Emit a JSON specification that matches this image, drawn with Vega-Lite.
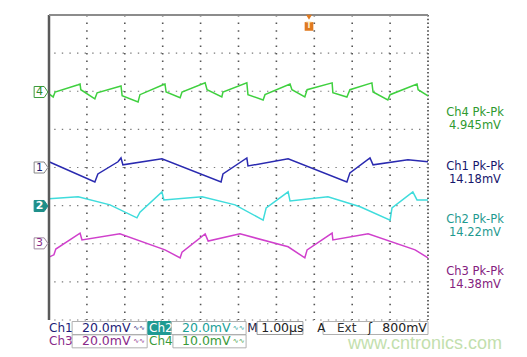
{
  "$schema": "https://vega.github.io/schema/vega-lite/v6.json",
  "width": 379,
  "height": 305,
  "autosize": {"type": "none"},
  "padding": {"left": 49, "top": 15, "right": 99, "bottom": 37},
  "background": "white",
  "config": {
    "view": {"stroke": null},
    "font": "DejaVu Sans",
    "axis": {"grid": false, "labels": false, "ticks": false, "domain": false, "titleOpacity": 0, "titleFontSize": 1}
  },
  "layer": [
    {
      "data": {"values": [{}]},
      "layer": [
        {"mark": {"type": "rule", "color": "#7a7a7a", "strokeWidth": 1.1, "strokeDash": [1.4, 6.2]}, "encoding": {"y": {"datum": 0}}},
        {"mark": {"type": "rule", "color": "#7a7a7a", "strokeWidth": 1.1, "strokeDash": [1.4, 6.2]}, "encoding": {"y": {"datum": 1}}},
        {"mark": {"type": "rule", "color": "#7a7a7a", "strokeWidth": 1.1, "strokeDash": [1.4, 6.2]}, "encoding": {"y": {"datum": 2}}},
        {"mark": {"type": "rule", "color": "#7a7a7a", "strokeWidth": 1.1, "strokeDash": [1.4, 6.2]}, "encoding": {"y": {"datum": 3}}},
        {"mark": {"type": "rule", "color": "#7a7a7a", "strokeWidth": 1.1, "strokeDash": [1.4, 6.2]}, "encoding": {"y": {"datum": 4}}},
        {"mark": {"type": "rule", "color": "#7a7a7a", "strokeWidth": 1.1, "strokeDash": [1.4, 6.2]}, "encoding": {"y": {"datum": 5}}},
        {"mark": {"type": "rule", "color": "#7a7a7a", "strokeWidth": 1.1, "strokeDash": [1.4, 6.2]}, "encoding": {"y": {"datum": 6}}},
        {"mark": {"type": "rule", "color": "#7a7a7a", "strokeWidth": 1.1, "strokeDash": [1.4, 6.2]}, "encoding": {"y": {"datum": 7}}},
        {"mark": {"type": "rule", "color": "#555555", "strokeWidth": 1.6, "strokeDash": [1.5, 6.1]}, "encoding": {"x": {"datum": 1}}},
        {"mark": {"type": "rule", "color": "#555555", "strokeWidth": 1.6, "strokeDash": [1.5, 6.1]}, "encoding": {"x": {"datum": 2}}},
        {"mark": {"type": "rule", "color": "#555555", "strokeWidth": 1.6, "strokeDash": [1.5, 6.1]}, "encoding": {"x": {"datum": 3}}},
        {"mark": {"type": "rule", "color": "#555555", "strokeWidth": 1.6, "strokeDash": [1.5, 6.1]}, "encoding": {"x": {"datum": 4}}},
        {"mark": {"type": "rule", "color": "#555555", "strokeWidth": 1.6, "strokeDash": [1.5, 6.1]}, "encoding": {"x": {"datum": 5}}},
        {"mark": {"type": "rule", "color": "#555555", "strokeWidth": 1.6, "strokeDash": [1.5, 6.1]}, "encoding": {"x": {"datum": 6}}},
        {"mark": {"type": "rule", "color": "#555555", "strokeWidth": 1.6, "strokeDash": [1.5, 6.1]}, "encoding": {"x": {"datum": 7}}},
        {"mark": {"type": "rule", "color": "#555555", "strokeWidth": 1.6, "strokeDash": [1.5, 6.1]}, "encoding": {"x": {"datum": 8}}},
        {"mark": {"type": "rule", "color": "#555555", "strokeWidth": 1.6, "strokeDash": [1.5, 6.1]}, "encoding": {"x": {"datum": 9}}},
        {"mark": {"type": "rule", "color": "#666666", "strokeWidth": 2, "strokeDash": [1.5, 2.3]}, "encoding": {"x": {"datum": 10}}}
      ]
    },
    {
      "data": {"values": [
        {"ch":"Ch4","t":0,"v":5.93},{"ch":"Ch4","t":0.11,"v":5.85},{"ch":"Ch4","t":0.16,"v":5.98},{"ch":"Ch4","t":0.77,"v":6.17},{"ch":"Ch4","t":0.82,"v":6.19},{"ch":"Ch4","t":0.84,"v":6.04},{"ch":"Ch4","t":1.21,"v":5.8},{"ch":"Ch4","t":1.27,"v":5.96},{"ch":"Ch4","t":1.9,"v":6.14},{"ch":"Ch4","t":1.93,"v":5.88},{"ch":"Ch4","t":2.35,"v":5.72},{"ch":"Ch4","t":2.4,"v":5.91},{"ch":"Ch4","t":3.01,"v":6.17},{"ch":"Ch4","t":3.06,"v":6.19},{"ch":"Ch4","t":3.09,"v":5.98},{"ch":"Ch4","t":3.46,"v":5.83},{"ch":"Ch4","t":3.51,"v":5.98},{"ch":"Ch4","t":4.12,"v":6.22},{"ch":"Ch4","t":4.17,"v":6.04},{"ch":"Ch4","t":4.56,"v":5.85},{"ch":"Ch4","t":4.59,"v":5.98},{"ch":"Ch4","t":5.22,"v":6.22},{"ch":"Ch4","t":5.25,"v":5.91},{"ch":"Ch4","t":5.65,"v":5.77},{"ch":"Ch4","t":5.7,"v":5.91},{"ch":"Ch4","t":6.36,"v":6.19},{"ch":"Ch4","t":6.41,"v":6.04},{"ch":"Ch4","t":6.75,"v":5.85},{"ch":"Ch4","t":6.81,"v":6.04},{"ch":"Ch4","t":7.47,"v":6.22},{"ch":"Ch4","t":7.49,"v":5.96},{"ch":"Ch4","t":7.86,"v":5.85},{"ch":"Ch4","t":7.94,"v":6.04},{"ch":"Ch4","t":8.52,"v":6.22},{"ch":"Ch4","t":8.55,"v":5.98},{"ch":"Ch4","t":8.94,"v":5.77},{"ch":"Ch4","t":9.0,"v":5.91},{"ch":"Ch4","t":9.71,"v":6.19},{"ch":"Ch4","t":9.74,"v":6.04},{"ch":"Ch4","t":10.0,"v":5.88},
        {"ch":"Ch1","t":0,"v":4.15},{"ch":"Ch1","t":1.21,"v":3.62},{"ch":"Ch1","t":1.29,"v":3.83},{"ch":"Ch1","t":1.82,"v":4.15},{"ch":"Ch1","t":1.9,"v":4.25},{"ch":"Ch1","t":1.95,"v":4.07},{"ch":"Ch1","t":2.98,"v":4.23},{"ch":"Ch1","t":4.54,"v":3.62},{"ch":"Ch1","t":4.59,"v":3.83},{"ch":"Ch1","t":5.22,"v":4.25},{"ch":"Ch1","t":5.25,"v":4.04},{"ch":"Ch1","t":6.31,"v":4.23},{"ch":"Ch1","t":7.86,"v":3.62},{"ch":"Ch1","t":7.94,"v":3.86},{"ch":"Ch1","t":8.47,"v":4.25},{"ch":"Ch1","t":8.55,"v":4.07},{"ch":"Ch1","t":9.47,"v":4.2},{"ch":"Ch1","t":10.0,"v":4.15},
        {"ch":"Ch2","t":0,"v":3.18},{"ch":"Ch2","t":0.77,"v":3.23},{"ch":"Ch2","t":1.61,"v":3.02},{"ch":"Ch2","t":2.32,"v":2.68},{"ch":"Ch2","t":2.4,"v":2.83},{"ch":"Ch2","t":2.98,"v":3.36},{"ch":"Ch2","t":3.03,"v":3.15},{"ch":"Ch2","t":4.04,"v":3.23},{"ch":"Ch2","t":4.91,"v":3.02},{"ch":"Ch2","t":5.65,"v":2.62},{"ch":"Ch2","t":5.73,"v":2.94},{"ch":"Ch2","t":6.31,"v":3.36},{"ch":"Ch2","t":6.36,"v":3.12},{"ch":"Ch2","t":7.36,"v":3.23},{"ch":"Ch2","t":8.21,"v":2.97},{"ch":"Ch2","t":9.0,"v":2.62},{"ch":"Ch2","t":9.05,"v":2.94},{"ch":"Ch2","t":9.6,"v":3.36},{"ch":"Ch2","t":9.71,"v":3.15},{"ch":"Ch2","t":10.0,"v":3.15},
        {"ch":"Ch3","t":0,"v":1.65},{"ch":"Ch3","t":0.13,"v":1.71},{"ch":"Ch3","t":0.18,"v":1.86},{"ch":"Ch3","t":0.82,"v":2.28},{"ch":"Ch3","t":0.87,"v":2.1},{"ch":"Ch3","t":1.87,"v":2.26},{"ch":"Ch3","t":3.06,"v":1.84},{"ch":"Ch3","t":3.46,"v":1.63},{"ch":"Ch3","t":3.51,"v":1.78},{"ch":"Ch3","t":4.12,"v":2.26},{"ch":"Ch3","t":4.2,"v":2.07},{"ch":"Ch3","t":5.04,"v":2.26},{"ch":"Ch3","t":6.31,"v":1.92},{"ch":"Ch3","t":6.75,"v":1.63},{"ch":"Ch3","t":6.81,"v":1.84},{"ch":"Ch3","t":7.47,"v":2.28},{"ch":"Ch3","t":7.49,"v":2.1},{"ch":"Ch3","t":8.42,"v":2.26},{"ch":"Ch3","t":9.66,"v":1.84},{"ch":"Ch3","t":10.0,"v":1.63}
      ]},
      "mark": {"type": "line", "strokeWidth": 1.5},
      "encoding": {
        "x": {"field": "t", "type": "quantitative", "title": null, "scale": {"domain": [0, 10], "nice": false, "zero": false},
              "axis": {"title": null, "grid": false, "values": [0,1,2,3,4,5,6,7,8,9,10]}},
        "y": {"field": "v", "type": "quantitative", "title": null, "scale": {"domain": [0, 8], "nice": false, "zero": false},
              "axis": {"title": null, "grid": false, "values": [0,1,2,3,4,5,6,7,8]}},
        "color": {"field": "ch", "type": "nominal", "scale": {"domain": ["Ch1","Ch2","Ch3","Ch4"], "range": ["#2a2ab0","#3fdcdc","#d040cc","#3fd03f"]}, "legend": null}
      }
    },
    {
      "data": {"values": [{}]},
      "layer": [
        {"mark": {"type": "rule", "color": "#5a5a5a", "strokeWidth": 2.5}, "encoding": {"x": {"datum": 0}}},
        {"mark": {"type": "rule", "color": "#8c8c8c", "strokeWidth": 2}, "encoding": {"y": {"datum": 8}}},

        {"mark": {"type": "point", "shape": "M-1,-0.8L0.45,-0.8L1,0L0.45,0.8L-1,0.8Z", "size": 190, "filled": true, "fill": "white", "stroke": "#3a9a3a", "strokeWidth": 1, "opacity": 1}, "encoding": {"x": {"datum": -0.21}, "y": {"datum": 5.98}}},
        {"mark": {"type": "text", "text": "4", "color": "#2e8a2e", "fontSize": 11, "align": "center", "baseline": "middle"}, "encoding": {"x": {"datum": -0.25}, "y": {"datum": 5.98}}},
        {"mark": {"type": "point", "shape": "M-1,-0.8L0.45,-0.8L1,0L0.45,0.8L-1,0.8Z", "size": 190, "filled": true, "fill": "white", "stroke": "#888888", "strokeWidth": 1, "opacity": 1}, "encoding": {"x": {"datum": -0.21}, "y": {"datum": 4.0}}},
        {"mark": {"type": "text", "text": "1", "color": "#1c1c78", "fontSize": 11, "align": "center", "baseline": "middle"}, "encoding": {"x": {"datum": -0.25}, "y": {"datum": 4.0}}},
        {"mark": {"type": "point", "shape": "M-1,-0.8L0.45,-0.8L1,0L0.45,0.8L-1,0.8Z", "size": 190, "filled": true, "fill": "#1e8f8a", "stroke": "#1e8f8a", "strokeWidth": 1, "opacity": 1}, "encoding": {"x": {"datum": -0.21}, "y": {"datum": 2.99}}},
        {"mark": {"type": "text", "text": "2", "color": "white", "fontSize": 11, "fontWeight": "bold", "align": "center", "baseline": "middle"}, "encoding": {"x": {"datum": -0.25}, "y": {"datum": 2.99}}},
        {"mark": {"type": "point", "shape": "M-1,-0.8L0.45,-0.8L1,0L0.45,0.8L-1,0.8Z", "size": 190, "filled": true, "fill": "white", "stroke": "#a08aa0", "strokeWidth": 1, "opacity": 1}, "encoding": {"x": {"datum": -0.21}, "y": {"datum": 2.01}}},
        {"mark": {"type": "text", "text": "3", "color": "#8a2a8a", "fontSize": 11, "align": "center", "baseline": "middle"}, "encoding": {"x": {"datum": -0.25}, "y": {"datum": 2.01}}},

        {"mark": {"type": "point", "shape": "triangle-down", "size": 35, "filled": true, "color": "#e07a20", "opacity": 1}, "encoding": {"x": {"datum": 6.86}, "y": {"datum": 7.94}}},
        {"mark": {"type": "point", "shape": "square", "size": 75, "filled": true, "color": "#e07a20", "opacity": 1}, "encoding": {"x": {"datum": 6.86}, "y": {"datum": 7.7}}},
        {"mark": {"type": "text", "text": "T", "color": "#fff2d0", "fontSize": 8, "fontWeight": "bold", "align": "center", "baseline": "middle"}, "encoding": {"x": {"datum": 6.86}, "y": {"datum": 7.7}}},

        {"mark": {"type": "text", "text": "Ch4 Pk-Pk", "color": "#2f9a2f", "fontSize": 11.5, "align": "center", "baseline": "middle"}, "encoding": {"x": {"datum": 11.24}, "y": {"datum": 5.42}}},
        {"mark": {"type": "text", "text": "4.945mV", "color": "#2f9a2f", "fontSize": 11.5, "align": "center", "baseline": "middle"}, "encoding": {"x": {"datum": 11.24}, "y": {"datum": 5.08}}},
        {"mark": {"type": "text", "text": "Ch1 Pk-Pk", "color": "#16166c", "fontSize": 11.5, "align": "center", "baseline": "middle"}, "encoding": {"x": {"datum": 11.24}, "y": {"datum": 4.02}}},
        {"mark": {"type": "text", "text": "14.18mV", "color": "#16166c", "fontSize": 11.5, "align": "center", "baseline": "middle"}, "encoding": {"x": {"datum": 11.24}, "y": {"datum": 3.68}}},
        {"mark": {"type": "text", "text": "Ch2 Pk-Pk", "color": "#1f9a90", "fontSize": 11.5, "align": "center", "baseline": "middle"}, "encoding": {"x": {"datum": 11.24}, "y": {"datum": 2.63}}},
        {"mark": {"type": "text", "text": "14.22mV", "color": "#1f9a90", "fontSize": 11.5, "align": "center", "baseline": "middle"}, "encoding": {"x": {"datum": 11.24}, "y": {"datum": 2.29}}},
        {"mark": {"type": "text", "text": "Ch3 Pk-Pk", "color": "#84207e", "fontSize": 11.5, "align": "center", "baseline": "middle"}, "encoding": {"x": {"datum": 11.24}, "y": {"datum": 1.26}}},
        {"mark": {"type": "text", "text": "14.38mV", "color": "#84207e", "fontSize": 11.5, "align": "center", "baseline": "middle"}, "encoding": {"x": {"datum": 11.24}, "y": {"datum": 0.92}}},

        {"mark": {"type": "rect", "fill": null, "stroke": "#b0b0b0", "strokeWidth": 1}, "encoding": {"x": {"datum": 0.61}, "x2": {"datum": 2.59}, "y": {"datum": -0.04}, "y2": {"datum": -0.38}}},
        {"mark": {"type": "rect", "fill": "#1e9a92", "stroke": "#1e9a92", "strokeWidth": 1}, "encoding": {"x": {"datum": 2.61}, "x2": {"datum": 3.22}, "y": {"datum": -0.04}, "y2": {"datum": -0.38}}},
        {"mark": {"type": "rect", "fill": null, "stroke": "#b0b0b0", "strokeWidth": 1}, "encoding": {"x": {"datum": 3.22}, "x2": {"datum": 5.2}, "y": {"datum": -0.04}, "y2": {"datum": -0.38}}},
        {"mark": {"type": "rect", "fill": null, "stroke": "#9a9a9a", "strokeWidth": 1}, "encoding": {"x": {"datum": 5.49}, "x2": {"datum": 6.7}, "y": {"datum": -0.04}, "y2": {"datum": -0.38}}},
        {"mark": {"type": "rect", "fill": null, "stroke": "#b0b0b0", "strokeWidth": 1}, "encoding": {"x": {"datum": 7.23}, "x2": {"datum": 10.0}, "y": {"datum": -0.04}, "y2": {"datum": -0.38}}},
        {"mark": {"type": "rect", "fill": null, "stroke": "#b0b0b0", "strokeWidth": 1}, "encoding": {"x": {"datum": 0.61}, "x2": {"datum": 2.59}, "y": {"datum": -0.39}, "y2": {"datum": -0.73}}},
        {"mark": {"type": "rect", "fill": null, "stroke": "#b0b0b0", "strokeWidth": 1}, "encoding": {"x": {"datum": 3.27}, "x2": {"datum": 5.2}, "y": {"datum": -0.39}, "y2": {"datum": -0.73}}},

        {"mark": {"type": "text", "text": "www.cntronics.com", "color": "#c3dfae", "font": "Liberation Sans", "fontSize": 18, "align": "center", "baseline": "middle"}, "encoding": {"x": {"datum": 9.92}, "y": {"datum": -0.64}}},

        {"mark": {"type": "text", "text": "Ch1", "color": "#1c1c78", "fontSize": 12, "align": "left", "baseline": "middle"}, "encoding": {"x": {"datum": 0.0}, "y": {"datum": -0.2}}},
        {"mark": {"type": "text", "text": "20.0mV", "color": "#1c1c78", "fontSize": 12.5, "align": "left", "baseline": "middle"}, "encoding": {"x": {"datum": 0.87}, "y": {"datum": -0.2}}},
        {"mark": {"type": "text", "text": "∿∿", "color": "#1c1c78", "fontSize": 7, "align": "left", "baseline": "middle"}, "encoding": {"x": {"datum": 2.22}, "y": {"datum": -0.2}}},
        {"mark": {"type": "text", "text": "Ch2", "color": "white", "fontSize": 12, "align": "left", "baseline": "middle"}, "encoding": {"x": {"datum": 2.64}, "y": {"datum": -0.2}}},
        {"mark": {"type": "text", "text": "20.0mV", "color": "#20a098", "fontSize": 12.5, "align": "left", "baseline": "middle"}, "encoding": {"x": {"datum": 3.51}, "y": {"datum": -0.2}}},
        {"mark": {"type": "text", "text": "∿∿", "color": "#20a098", "fontSize": 7, "align": "left", "baseline": "middle"}, "encoding": {"x": {"datum": 4.85}, "y": {"datum": -0.2}}},
        {"mark": {"type": "text", "text": "M", "color": "#222244", "fontSize": 12, "align": "left", "baseline": "middle"}, "encoding": {"x": {"datum": 5.23}, "y": {"datum": -0.2}}},
        {"mark": {"type": "text", "text": "1.00µs", "color": "#222222", "fontSize": 12.5, "align": "left", "baseline": "middle"}, "encoding": {"x": {"datum": 5.6}, "y": {"datum": -0.2}}},
        {"mark": {"type": "text", "text": "A", "color": "#222222", "fontSize": 12, "align": "left", "baseline": "middle"}, "encoding": {"x": {"datum": 7.08}, "y": {"datum": -0.2}}},
        {"mark": {"type": "text", "text": "Ext", "color": "#333333", "fontSize": 12, "align": "left", "baseline": "middle"}, "encoding": {"x": {"datum": 7.6}, "y": {"datum": -0.2}}},
        {"mark": {"type": "text", "text": "ʃ", "color": "#222222", "fontSize": 12, "align": "left", "baseline": "middle"}, "encoding": {"x": {"datum": 8.42}, "y": {"datum": -0.2}}},
        {"mark": {"type": "text", "text": "800mV", "color": "#222222", "fontSize": 12.5, "align": "right", "baseline": "middle"}, "encoding": {"x": {"datum": 9.97}, "y": {"datum": -0.2}}},

        {"mark": {"type": "text", "text": "Ch3", "color": "#8a2a8a", "fontSize": 12, "align": "left", "baseline": "middle"}, "encoding": {"x": {"datum": 0.0}, "y": {"datum": -0.56}}},
        {"mark": {"type": "text", "text": "20.0mV", "color": "#8a2a8a", "fontSize": 12.5, "align": "left", "baseline": "middle"}, "encoding": {"x": {"datum": 0.87}, "y": {"datum": -0.56}}},
        {"mark": {"type": "text", "text": "∿∿", "color": "#8a2a8a", "fontSize": 7, "align": "left", "baseline": "middle"}, "encoding": {"x": {"datum": 2.22}, "y": {"datum": -0.56}}},
        {"mark": {"type": "text", "text": "Ch4", "color": "#3a9a3a", "fontSize": 12, "align": "left", "baseline": "middle"}, "encoding": {"x": {"datum": 2.64}, "y": {"datum": -0.56}}},
        {"mark": {"type": "text", "text": "10.0mV", "color": "#3a9a3a", "fontSize": 12.5, "align": "left", "baseline": "middle"}, "encoding": {"x": {"datum": 3.51}, "y": {"datum": -0.56}}},
        {"mark": {"type": "text", "text": "∿∿", "color": "#3a9a3a", "fontSize": 7, "align": "left", "baseline": "middle"}, "encoding": {"x": {"datum": 4.85}, "y": {"datum": -0.56}}}
      ]
    }
  ]
}
